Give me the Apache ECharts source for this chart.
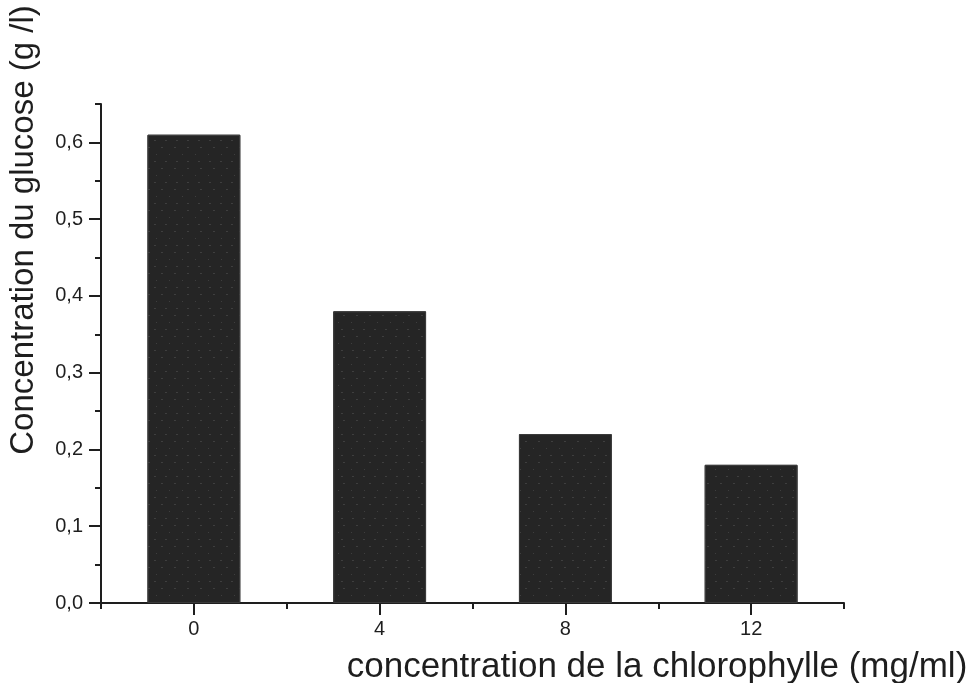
<!DOCTYPE html>
<html>
<head>
<meta charset="utf-8">
<script src="https://cdn.jsdelivr.net/npm/echarts@6/dist/echarts.min.js"></script>
<style>
  html, body { margin: 0; padding: 0; background: #ffffff; }
  #chart { width: 972px; height: 683px; }
</style>
</head>
<body>
<div id="chart"></div>
<script>
// Chlorophyll concentration (mg/ml) on the x axis
const categories = ['0', '4', '8', '12'];
// Remaining glucose concentration (g/l)
const glucose = [0.61, 0.38, 0.22, 0.18];
// Labelled and unlabelled tick positions on the value axis
const majorTicks = [0, 0.1, 0.2, 0.3, 0.4, 0.5, 0.6];
const minorTicks = [0.05, 0.15, 0.25, 0.35, 0.45, 0.55, 0.65];

const ink = '#1e1e1e';
const font = '"Liberation Sans", Arial, sans-serif';

const chart = echarts.init(document.getElementById('chart'), null, { renderer: 'canvas' });

chart.setOption({
  backgroundColor: '#ffffff',
  animation: false,
  grid: { left: 101, right: 128, top: 104, bottom: 80, containLabel: false },
  xAxis: [
    {
      type: 'category',
      data: categories,
      position: 'bottom',
      axisLine: { show: true, lineStyle: { color: ink, width: 2 } },
      axisTick: { show: true, alignWithLabel: true, inside: false, length: 12, lineStyle: { color: ink, width: 2 } },
      axisLabel: { color: ink, fontFamily: font, fontSize: 20, margin: 16 },
      splitLine: { show: false }
    },
    {
      type: 'category',
      data: categories,
      position: 'bottom',
      axisLine: { show: false },
      axisTick: { show: true, alignWithLabel: false, length: 6, lineStyle: { color: ink, width: 2 } },
      axisLabel: { show: false },
      splitLine: { show: false }
    }
  ],
  yAxis: [
    {
      type: 'value',
      min: 0,
      max: 0.65,
      position: 'left',
      axisLine: { show: true, lineStyle: { color: ink, width: 2 } },
      axisTick: { show: true, length: 12, customValues: majorTicks, lineStyle: { color: ink, width: 2 } },
      axisLabel: {
        color: ink, fontFamily: font, fontSize: 20, margin: 18,
        customValues: majorTicks,
        formatter: v => v.toFixed(1).replace('.', ',')
      },
      splitLine: { show: false }
    },
    {
      type: 'value',
      min: 0,
      max: 0.65,
      position: 'left',
      axisLine: { show: false },
      axisTick: { show: true, length: 6, customValues: minorTicks, lineStyle: { color: ink, width: 2 } },
      axisLabel: { show: false },
      splitLine: { show: false }
    }
  ],
  series: [
    {
      type: 'bar',
      xAxisIndex: 0,
      yAxisIndex: 0,
      data: glucose,
      barWidth: '50%',
      itemStyle: {
        color: '#252525',
        borderColor: '#3a3a3a',
        borderWidth: 1,
        decal: {
          symbol: 'rect',
          symbolSize: 0.6,
          color: 'rgba(255,255,255,0.4)',
          dashArrayX: [[2, 9], [0, 5, 2, 6], [1, 12]],
          dashArrayY: [1, 6],
          rotation: 0
        }
      }
    }
  ],
  graphic: [
    {
      type: 'text',
      x: 657,
      y: 667,
      style: {
        text: 'concentration de la chlorophylle (mg/ml)',
        fill: ink,
        font: '35px "Liberation Sans", Arial, sans-serif',
        textAlign: 'center',
        textVerticalAlign: 'middle'
      }
    },
    {
      type: 'text',
      x: 24,
      y: 230,
      rotation: Math.PI / 2,
      style: {
        text: 'Concentration du glucose (g /l)',
        fill: ink,
        font: '33px "Liberation Sans", Arial, sans-serif',
        textAlign: 'center',
        textVerticalAlign: 'middle'
      }
    }
  ]
});
</script>
</body>
</html>
